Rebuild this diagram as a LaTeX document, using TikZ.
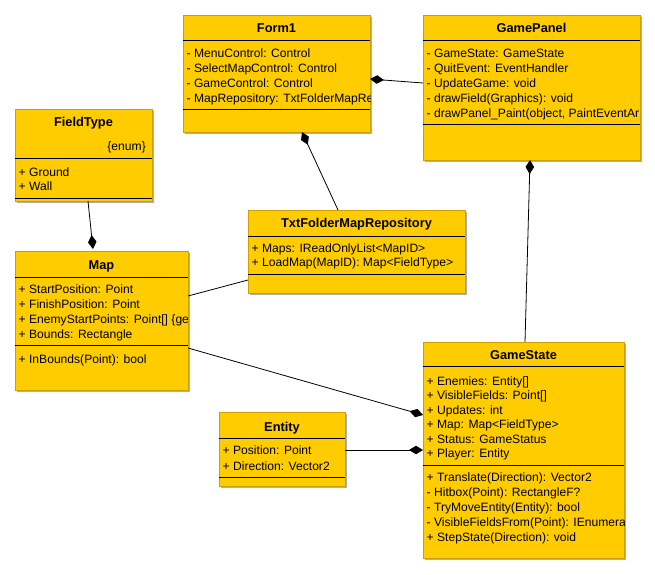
\documentclass[tikz,border=0pt]{standalone}
\usepackage{fontspec}
\setmainfont{Liberation Sans}
\usetikzlibrary{arrows.meta}

\definecolor{classfill}{RGB}{255,204,0}
\definecolor{classedge}{RGB}{205,160,0}
\definecolor{shadowgray}{RGB}{175,175,175}

\tikzset{
  classbox/.style={draw=classedge, fill=classfill, line width=0.6pt,
    rectangle, inner sep=0pt, outer sep=0pt, anchor=north west},
  boxshadow/.style={fill=shadowgray},
  sepline/.style={draw=black, line width=0.9pt},
  member/.style={anchor=west, inner sep=0pt, text height=10pt, text depth=2pt,
    font=\fontsize{12.1}{13}\selectfont},
  classtitle/.style={inner sep=0pt, text height=10pt, text depth=2pt,
    font=\fontsize{12.8}{14}\selectfont\bfseries},
  link/.style={draw=black, line width=0.8pt},
  composite/.style={link, arrows={Diamond[length=14pt,width=8.5pt]-}},
  compositeend/.style={link, arrows={-Diamond[length=14pt,width=8.5pt]}},
}

% class rectangle with its drop shadow: name, left, top, width, height
\newcommand\umlclass[5]{%
  \fill[boxshadow] (#2+1.5,#3+1.5) rectangle ++(#4,#5);
  \node[classbox, minimum width=#4pt, minimum height=#5pt] (#1) at (#2,#3) {};
}
% horizontal compartment rule at a given depth below the top edge
\newcommand\umlsep[2]{%
  \draw[sepline] ([yshift=-#2pt]#1.north west) -- ([yshift=-#2pt]#1.north east);
}
% one member line: class, id, depth of its centre, text
\newcommand\umlmember[4]{%
  \node[member] (#1-#2) at ([xshift=3.5pt,yshift=-#3pt]#1.north west) {#4};
}
% class name, centred
\newcommand\umltitle[3]{%
  \node[classtitle] (#1-title) at ([yshift=-#2pt]#1.north) {#3};
}
% keep member text inside the box outline
\newcommand\boxclip[1]{\clip (#1.north west) rectangle (#1.south east);}

\begin{document}
\begin{tikzpicture}[x=1pt, y=-1pt]
\fill[white] (0,0) rectangle (655,574);
\useasboundingbox (0,0) rectangle (655,574);

% ---------- Form1 ----------
\umlclass{form1}{183}{15}{187}{117}
\umltitle{form1}{13}{Form1}
\umlsep{form1}{25}
\umlsep{form1}{94}
\begin{scope}
  \boxclip{form1}
  \umlmember{form1}{a}{38}{- MenuControl: Control}
  \umlmember{form1}{b}{53}{- SelectMapControl: Control}
  \umlmember{form1}{c}{68}{- GameControl: Control}
  \umlmember{form1}{d}{83}{- MapRepository: TxtFolderMapRe}
\end{scope}

% ---------- GamePanel ----------
\umlclass{gamepanel}{423}{15}{217}{145}
\umltitle{gamepanel}{13}{GamePanel}
\umlsep{gamepanel}{25}
\umlsep{gamepanel}{109}
\begin{scope}
  \boxclip{gamepanel}
  \umlmember{gamepanel}{a}{38}{- GameState: GameState}
  \umlmember{gamepanel}{b}{53}{- QuitEvent: EventHandler}
  \umlmember{gamepanel}{c}{68}{- UpdateGame: void}
  \umlmember{gamepanel}{d}{83}{- drawField(Graphics): void}
  \umlmember{gamepanel}{e}{98}{- drawPanel\_Paint(object, PaintEventAr}
\end{scope}

% ---------- FieldType ----------
\umlclass{fieldtype}{15}{109}{137}{92}
\umltitle{fieldtype}{13}{FieldType}
\node[member, anchor=east] (fieldtype-stereo)
  at ([xshift=-6pt,yshift=-37pt]fieldtype.north east) {\{enum\}};
\umlsep{fieldtype}{49}
\umlsep{fieldtype}{89}
\umlmember{fieldtype}{a}{63}{+ Ground}
\umlmember{fieldtype}{b}{77}{+ Wall}

% ---------- Map ----------
\umlclass{map}{15}{251}{173}{139}
\umltitle{map}{14}{Map}
\umlsep{map}{26}
\umlsep{map}{94}
\begin{scope}
  \boxclip{map}
  \umlmember{map}{a}{38}{+ StartPosition: Point}
  \umlmember{map}{b}{53}{+ FinishPosition: Point}
  \umlmember{map}{c}{68}{+ EnemyStartPoints: Point[] \{ge}
  \umlmember{map}{d}{83}{+ Bounds: Rectangle}
  \umlmember{map}{e}{108}{+ InBounds(Point): bool}
\end{scope}

% ---------- TxtFolderMapRepository ----------
\umlclass{repo}{248}{210}{217}{83}
\umltitle{repo}{13}{TxtFolderMapRepository}
\umlsep{repo}{26}
\umlsep{repo}{64}
\umlmember{repo}{a}{38}{+ Maps: IReadOnlyList<MapID>}
\umlmember{repo}{b}{52}{+ LoadMap(MapID): Map<FieldType>}

% ---------- GameState ----------
\umlclass{gamestate}{423}{342}{201}{216}
\umltitle{gamestate}{13}{GameState}
\umlsep{gamestate}{24}
\umlsep{gamestate}{123}
\begin{scope}
  \boxclip{gamestate}
  \umlmember{gamestate}{a}{39}{+ Enemies: Entity[]}
  \umlmember{gamestate}{b}{53.5}{+ VisibleFields: Point[]}
  \umlmember{gamestate}{c}{68}{+ Updates: int}
  \umlmember{gamestate}{d}{82.5}{+ Map: Map<FieldType>}
  \umlmember{gamestate}{e}{97}{+ Status: GameStatus}
  \umlmember{gamestate}{f}{111.5}{+ Player: Entity}
  \umlmember{gamestate}{g}{135}{+ Translate(Direction): Vector2}
  \umlmember{gamestate}{h}{150.5}{- Hitbox(Point): RectangleF?}
  \umlmember{gamestate}{i}{165.5}{- TryMoveEntity(Entity): bool}
  \umlmember{gamestate}{j}{180.5}{- VisibleFieldsFrom(Point): IEnumera}
  \umlmember{gamestate}{k}{195}{+ StepState(Direction): void}
\end{scope}

% ---------- Entity ----------
\umlclass{entity}{219}{412}{126}{74}
\umltitle{entity}{15}{Entity}
\umlsep{entity}{26}
\umlsep{entity}{65}
\umlmember{entity}{a}{38}{+ Position: Point}
\umlmember{entity}{b}{54}{+ Direction: Vector2}

% ---------- relations ----------
\draw[composite] ([yshift=-64pt]form1.north east) -- ([yshift=-68pt]gamepanel.north west);
\draw[composite] ([xshift=119pt]form1.south west) -- ([xshift=90pt]repo.north west);
\draw[composite] ([xshift=107pt]gamepanel.south west) -- ([xshift=102pt]gamestate.north west);
\draw[compositeend] ([xshift=73pt]fieldtype.south west) -- ([xshift=78pt,yshift=2pt]map.north west);
\draw[link] ([yshift=-45pt]map.north east) -- ([yshift=-70pt]repo.north west);
\draw[compositeend] ([yshift=-97pt]map.north east) -- ([yshift=-73pt]gamestate.north west);
\draw[compositeend] ([yshift=-38pt]entity.north east) -- ([yshift=-108pt]gamestate.north west);
\end{tikzpicture}
\end{document}
